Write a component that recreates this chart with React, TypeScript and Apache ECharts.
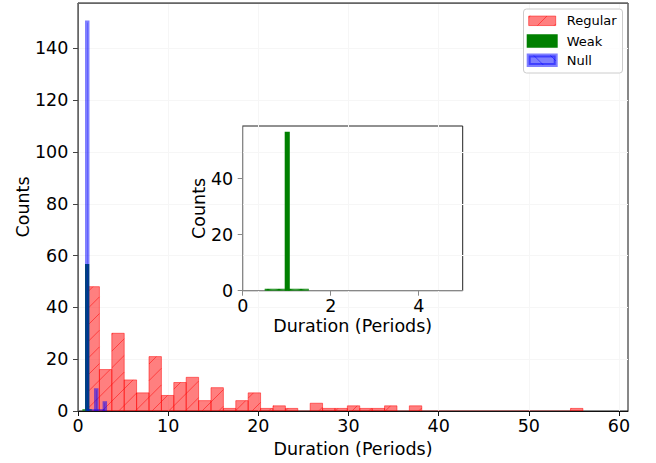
import React, { useEffect, useRef } from "react";
import * as echarts from "echarts";

// ---- data (histogram bins) ----
const regularBinStart = 1;
const regularBinWidth = 1.375;
const regularCounts = [
  48, 16, 30, 12, 7, 21, 6, 11, 13, 4, 9, 1, 4, 7, 1, 2, 1, 0, 3, 1,
  1, 2, 1, 1, 2, 0, 2, 0, 0, 0, 0, 0, 0, 0, 0, 0, 0, 0, 0, 1,
];

const weakBinStart = 0.5;
const weakBinWidth = 0.025;
const weakBinTotal = 40;
const weakBinIndex = [20];
const weakBinCounts = [56];

const nullBinStart = 1;
const nullBinWidth = 0.05;
const nullBinTotal = 40;
const nullBinIndex = [0, 20, 39];
const nullBinCounts = [150, 8, 3];

const mainXTicks = [0, 10, 20, 30, 40, 50, 60];
const mainYTicks = [0, 20, 40, 60, 80, 100, 120, 140];
const insetXTicks = [0, 2, 4];
const insetYTicks = [0, 20, 40];
const seriesNames = ["Regular", "Weak", "Null"];
const xTitle = "Duration (Periods)";
const yTitle = "Counts";

// ---- helpers ----
function buildBins(start: number, width: number, counts: number[]) {
  return counts.map((c, i) => [start + i * width, start + (i + 1) * width, c]);
}
function buildSparseBins(start: number, width: number, total: number, idx: number[], vals: number[]) {
  const counts = new Array(total).fill(0);
  idx.forEach((i, k) => (counts[i] = vals[k]));
  return buildBins(start, width, counts);
}

const HATCH = 100 / 6;
function hatchLines(L: number, R: number, T: number, B: number, dir: string, color: string, lw: number) {
  const out: any[] = [];
  if (dir === "/") {
    const phase = 13;
    const k0 = Math.floor((L + T - phase) / HATCH) - 1;
    for (let k = k0; phase + k * HATCH <= R + B + 1; k++) {
      const c = phase + k * HATCH;
      const xlo = Math.max(L, c - B);
      const xhi = Math.min(R, c - T);
      if (xhi > xlo) {
        out.push({ type: "line", silent: true, shape: { x1: xlo, y1: c - xlo, x2: xhi, y2: c - xhi }, style: { stroke: color, lineWidth: lw } });
      }
    }
  } else {
    const phase = 5;
    const k0 = Math.floor((T - R - phase) / HATCH) - 1;
    for (let k = k0; phase + k * HATCH <= B - L + 1; k++) {
      const c = phase + k * HATCH; // y = x + c
      const xlo = Math.max(L, T - c);
      const xhi = Math.min(R, B - c);
      if (xhi > xlo) {
        out.push({ type: "line", silent: true, shape: { x1: xlo, y1: xlo + c, x2: xhi, y2: xhi + c }, style: { stroke: color, lineWidth: lw } });
      }
    }
  }
  return out;
}

function histRender(fill: string, stroke: string, lw: number, hatch: string | null, hatchColor: string) {
  return (_params: any, api: any) => {
    const x0 = api.value(0);
    const x1 = api.value(1);
    const c = api.value(2);
    const p0 = api.coord([x0, 0]);
    const p1 = api.coord([x1, c]);
    const L = p0[0];
    const R = p1[0];
    const B = p0[1];
    const T = p1[1];
    if (!c) {
      return { type: "line", shape: { x1: L, y1: B, x2: R, y2: B }, style: { stroke, lineWidth: lw } };
    }
    const children: any[] = [
      { type: "rect", shape: { x: L, y: T, width: R - L, height: B - T }, style: { fill, stroke, lineWidth: lw } },
    ];
    if (hatch) children.push(...hatchLines(L, R, T, B, hatch, hatchColor, 1));
    return { type: "group", children };
  };
}

const FONT = "DejaVu Sans";
const FS = 17.5;

const RED_FILL = "rgba(255,0,0,0.5)";
const RED_EDGE = "rgba(255,0,0,0.5)";
const GREEN = "#008000";
const BLUE = "rgba(0,0,255,0.5)";

function legendGraphic() {
  const x0 = 528.7;
  const w = 27;
  const h = 9.5;
  const ys = [20.8, 41, 60.2];
  const els: any[] = [
    { type: "rect", shape: { x: 523.5, y: 9, width: 99, height: 64, r: 3 }, style: { fill: "rgba(255,255,255,0.8)", stroke: "#cccccc", lineWidth: 1 }, z: 100 },
  ];
  els.push({ type: "rect", shape: { x: x0, y: ys[0] - h / 2, width: w, height: h }, style: { fill: RED_FILL, stroke: RED_EDGE, lineWidth: 1 }, z: 101 });
  hatchLines(x0, x0 + w, ys[0] - h / 2, ys[0] + h / 2, "/", RED_EDGE, 1).forEach((l) => els.push({ ...l, z: 102 }));
  els.push({ type: "rect", shape: { x: x0, y: ys[1] - h / 2, width: w, height: h }, style: { fill: GREEN, stroke: GREEN, lineWidth: 4 }, z: 101 });
  els.push({ type: "rect", shape: { x: x0, y: ys[2] - h / 2, width: w, height: h }, style: { fill: BLUE, stroke: BLUE, lineWidth: 4 }, z: 101 });
  hatchLines(x0, x0 + w, ys[2] - h / 2, ys[2] + h / 2, "\\", BLUE, 1).forEach((l) => els.push({ ...l, z: 102 }));
  seriesNames.forEach((n, i) => {
    els.push({
      type: "text",
      x: 566.7,
      y: ys[i],
      style: { text: n, fill: "#000", font: `13px "${FONT}"`, textVerticalAlign: "middle", verticalAlign: "middle", align: "left" },
      z: 103,
    });
  });
  return els;
}

export default function App() {
  const ref = useRef<HTMLDivElement>(null);
  useEffect(() => {
    if (!ref.current) return;
    const chart = echarts.init(ref.current, undefined, { renderer: "svg" });
    const regularData = buildBins(regularBinStart, regularBinWidth, regularCounts);
    const weakData = buildSparseBins(weakBinStart, weakBinWidth, weakBinTotal, weakBinIndex, weakBinCounts);
    const nullData = buildSparseBins(nullBinStart, nullBinWidth, nullBinTotal, nullBinIndex, nullBinCounts);

    const labelStyle = { fontSize: FS, color: "#000", fontFamily: FONT };

    const option: any = {
      animation: false,
      backgroundColor: "#ffffff",
      textStyle: { fontFamily: FONT },
      grid: [
        { left: 78, top: 3, width: 550, height: 410.5, show: true, borderColor: "#111", borderWidth: 1, backgroundColor: "transparent" },
        { left: 242.7, top: 126, width: 220, height: 164.7, show: true, borderColor: "#222", borderWidth: 1, backgroundColor: "#ffffff" },
      ],
      xAxis: [
        {
          gridIndex: 0, type: "value", min: 0, max: 61, interval: 10, position: "bottom",
          axisLine: { show: true, onZero: false, lineStyle: { color: "#111" } },
          axisTick: { show: true, length: 5, customValues: mainXTicks, lineStyle: { color: "#111" } },
          axisLabel: { customValues: mainXTicks, margin: 6, ...labelStyle },
          splitLine: { show: true, lineStyle: { color: "#f6f6f6" } },
          name: xTitle, nameLocation: "middle", nameGap: 29, nameMoveOverlap: false, nameTextStyle: labelStyle,
        },
        {
          gridIndex: 0, type: "value", min: 0, max: 61, position: "top",
          axisLine: { show: true, onZero: false, lineStyle: { color: "#666" } },
          axisTick: { show: false }, axisLabel: { show: false }, splitLine: { show: false },
        },
        {
          gridIndex: 1, type: "value", min: 0, max: 5, interval: 1, position: "bottom",
          axisLine: { show: true, onZero: false, lineStyle: { color: "#888" } },
          axisTick: { show: true, length: 5, customValues: insetXTicks, lineStyle: { color: "#888" } },
          axisLabel: { customValues: insetXTicks, margin: 6, ...labelStyle },
          splitLine: { show: false },
          name: xTitle, nameLocation: "middle", nameGap: 26, nameMoveOverlap: false, nameTextStyle: labelStyle,
        },
      ],
      yAxis: [
        {
          gridIndex: 0, type: "value", min: 0, max: 157.5, interval: 20,
          axisLine: { show: true, onZero: false, lineStyle: { color: "#666" } },
          axisTick: { show: true, length: 5, customValues: mainYTicks, lineStyle: { color: "#444" } },
          axisLabel: { customValues: mainYTicks, margin: 9.7, ...labelStyle },
          splitLine: { show: true, lineStyle: { color: "#f6f6f6" } },
          name: yTitle, nameLocation: "middle", nameGap: 46, nameMoveOverlap: false, nameTextStyle: labelStyle,
        },
        {
          gridIndex: 1, type: "value", min: 0, max: 58.8, interval: 20,
          axisLine: { show: true, onZero: false, lineStyle: { color: "#888" } },
          axisTick: { show: true, length: 5, customValues: insetYTicks, lineStyle: { color: "#888" } },
          axisLabel: { customValues: insetYTicks, margin: 9.5, ...labelStyle },
          splitLine: { show: false },
          name: yTitle, nameLocation: "middle", nameGap: 34.5, nameMoveOverlap: false, nameTextStyle: labelStyle,
        },
      ],
      series: [
        {
          type: "custom", name: seriesNames[0], xAxisIndex: 0, yAxisIndex: 0, clip: true,
          encode: { x: [0, 1], y: 2 }, data: regularData,
          renderItem: histRender(RED_FILL, RED_EDGE, 1, "/", RED_EDGE),
        },
        {
          type: "custom", name: seriesNames[1], xAxisIndex: 0, yAxisIndex: 0, clip: true,
          encode: { x: [0, 1], y: 2 }, data: weakData,
          renderItem: histRender(GREEN, GREEN, 4, null, GREEN),
        },
        {
          type: "custom", name: seriesNames[2], xAxisIndex: 0, yAxisIndex: 0, clip: true,
          encode: { x: [0, 1], y: 2 }, data: nullData,
          renderItem: histRender(BLUE, BLUE, 4, null, BLUE),
        },
        {
          type: "custom", name: seriesNames[1] + " (inset)", xAxisIndex: 2, yAxisIndex: 1, clip: true,
          encode: { x: [0, 1], y: 2 }, data: weakData,
          renderItem: histRender(GREEN, GREEN, 4, null, GREEN),
        },
      ],
      graphic: legendGraphic(),
    };
    chart.setOption(option);
    return () => chart.dispose();
  }, []);
  return <div ref={ref} style={{ position: "fixed", left: 0, top: 0, width: 656, height: 463 }} />;
}
